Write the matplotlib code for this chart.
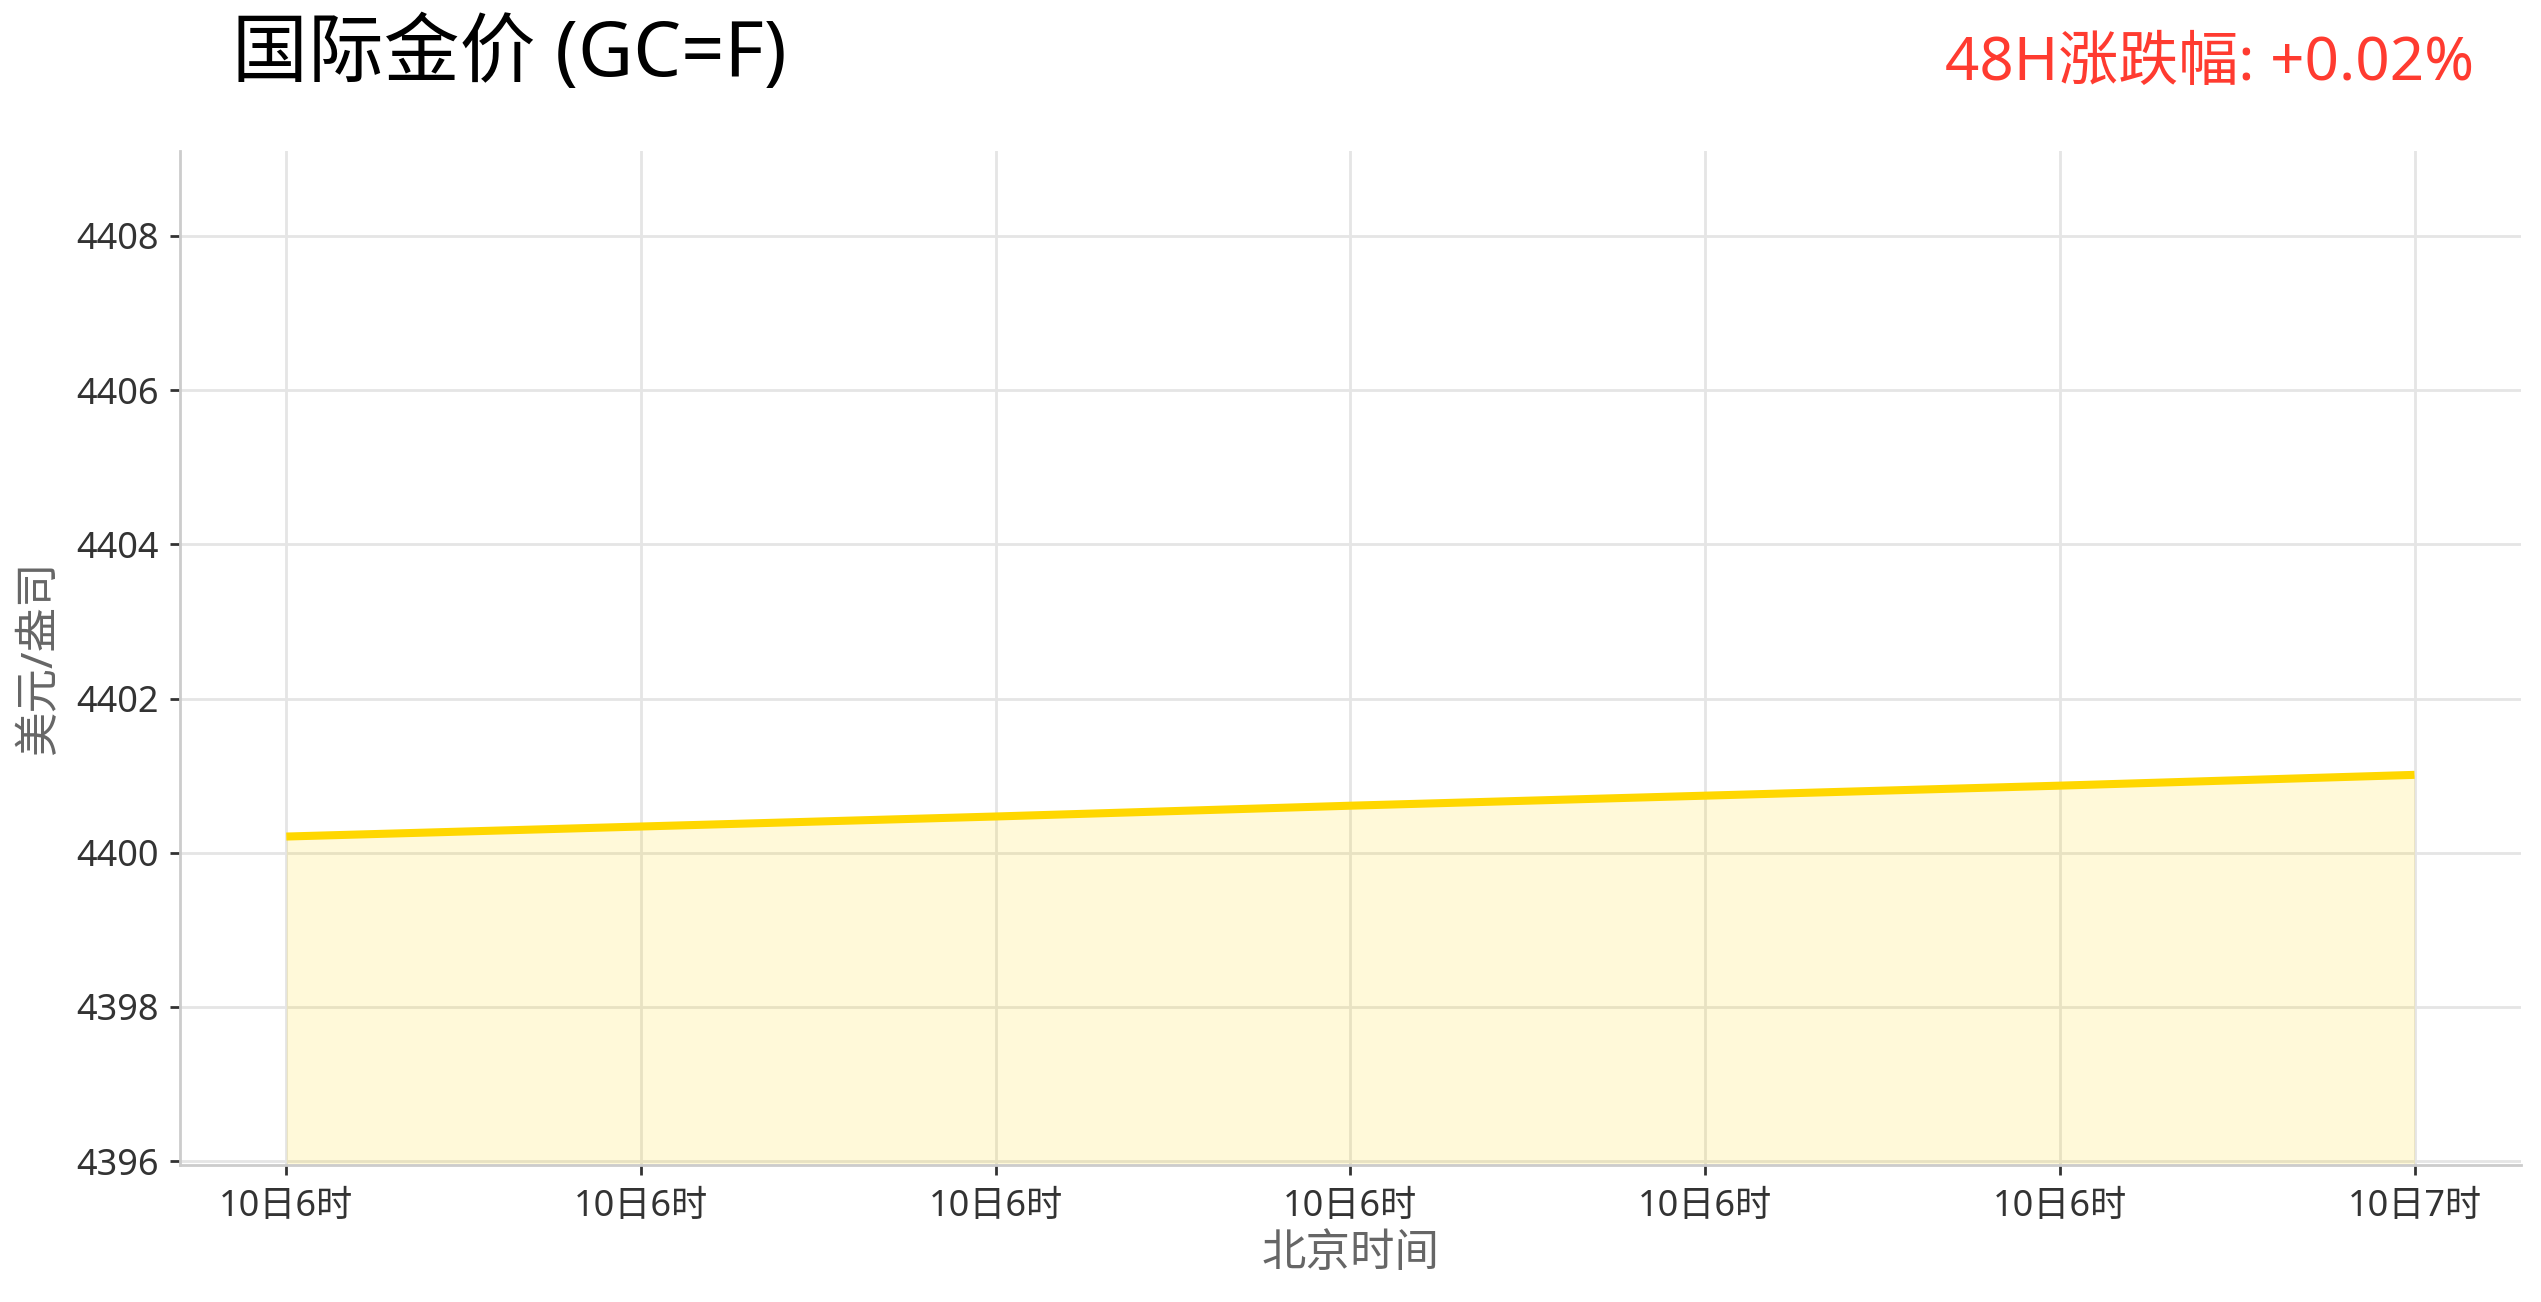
import matplotlib
matplotlib.use("Agg")
import matplotlib.pyplot as plt
import numpy as np

plt.rcParams['font.family'] = ['Noto Sans', 'Noto Sans CJK SC', 'DejaVu Sans']

# Data (minutes after 10日 06:00, Beijing time)
minutes = [0, 10, 20, 30, 40, 50, 60]
price = [4400.21, 4400.34, 4400.47, 4400.61, 4400.74, 4400.87, 4401.01]
tick_labels = ["10日6时", "10日6时", "10日6时", "10日6时", "10日6时", "10日6时", "10日7时"]
y_ticks = [4396, 4398, 4400, 4402, 4404, 4406, 4408]
title = "国际金价 (GC=F)"
change_text = "48H涨跌幅: +0.02%"

fig = plt.figure(figsize=(12.705, 6.51), dpi=200)
ax = fig.add_axes([0.0708, 0.1052, 0.9213, 0.7788])

ymin, ymax = 4395.95, 4409.1
ax.fill_between(minutes, price, ymin - 1, color='#FFD700', alpha=0.15, linewidth=0, zorder=2)
ax.plot(minutes, price, color='#FFD700', linewidth=2.9, zorder=3, solid_capstyle='butt')

ax.set_xlim(-3, 63)
ax.set_ylim(ymin, ymax)
ax.set_xticks(minutes)
ax.set_xticklabels(tick_labels)
ax.set_yticks(y_ticks)

ax.grid(True, color='#e5e5e5', linewidth=1.0, zorder=0)
ax.set_axisbelow(True)
for s in ['top', 'right']:
    ax.spines[s].set_visible(False)
for s in ['left', 'bottom']:
    ax.spines[s].set_color('#cccccc')
    ax.spines[s].set_linewidth(1.0)

ax.tick_params(axis='both', colors='#333333', labelsize=13, length=3.6, width=1.0)
ax.tick_params(axis='x', pad=5)
ax.tick_params(axis='y', pad=4)

ax.set_xlabel("北京时间", fontsize=16, color='#666666', labelpad=3)
ax.set_ylabel("美元/盎司", fontsize=16, color='#666666', labelpad=5)

fig.text(0.0913, 0.957, title, fontsize=27.3, color='#000000', ha='left', va='center')
fig.text(0.9737, 0.951, change_text, fontsize=21.6, color='#FF3B30', ha='right', va='center')

fig.savefig("out.png", dpi=200)
